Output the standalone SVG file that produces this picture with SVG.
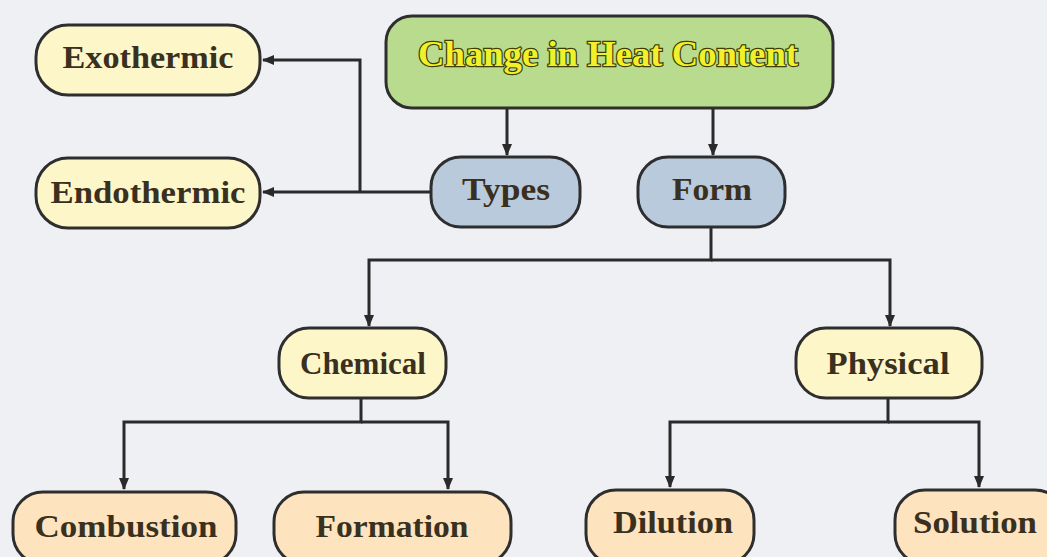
<svg xmlns="http://www.w3.org/2000/svg" width="1047" height="557" viewBox="0 0 1047 557">
<defs>
<marker id="ah" markerWidth="12" markerHeight="10" refX="11" refY="5" orient="auto" markerUnits="userSpaceOnUse">
<path d="M0,0 L12,5 L0,10 Z" fill="#2a2a2a"/>
</marker>
<style>
.box{stroke:#2e2e2e;stroke-width:3}
.main{fill:#b8db8d}
.lead{fill:#fdf6c9}
.blue{fill:#b9cadd}
.peach{fill:#fde4bf}
.lbl{font-family:"Liberation Serif",serif;font-weight:bold;font-size:31px;fill:#3a3020;text-anchor:middle}
.ttl{font-family:"Liberation Serif",serif;font-weight:bold;font-size:36px;fill:#f2f02a;stroke:#3d3d05;stroke-width:2.4;paint-order:stroke;text-anchor:middle}
.con{fill:none;stroke:#2a2a2a;stroke-width:3}
</style>
</defs>
<rect width="1047" height="557" fill="#eef0f4"/>
<g id="connectors">
<path class="con" d="M507,108 V155" marker-end="url(#ah)"/>
<path class="con" d="M713,108 V155" marker-end="url(#ah)"/>
<path class="con" d="M431,192 H263" marker-end="url(#ah)"/>
<path class="con" d="M360,192 V60 H263" marker-end="url(#ah)"/>
<path class="con" d="M711,227 V260 H369 V326" marker-end="url(#ah)"/>
<path class="con" d="M711,260 H890 V326" marker-end="url(#ah)"/>
<path class="con" d="M361,398 V422 H124 V489" marker-end="url(#ah)"/>
<path class="con" d="M361,422 H448 V489" marker-end="url(#ah)"/>
<path class="con" d="M888,398 V422 H670 V487" marker-end="url(#ah)"/>
<path class="con" d="M888,422 H979 V487" marker-end="url(#ah)"/>
</g>
<g id="node-main">
<rect class="box main" x="386" y="16" width="447" height="92" rx="26"/>
<text class="ttl" x="608" y="66" textLength="380" lengthAdjust="spacingAndGlyphs">Change in Heat Content</text>
</g>
<g id="node-exothermic">
<rect class="box lead" x="36" y="25" width="224" height="70" rx="32"/>
<text class="lbl" x="148" y="68" textLength="171" lengthAdjust="spacingAndGlyphs">Exothermic</text>
</g>
<g id="node-endothermic">
<rect class="box lead" x="36" y="158" width="224" height="70" rx="32"/>
<text class="lbl" x="148" y="203" textLength="195" lengthAdjust="spacingAndGlyphs">Endothermic</text>
</g>
<g id="node-types">
<rect class="box blue" x="431" y="157" width="149" height="70" rx="30"/>
<text class="lbl" x="506" y="200" textLength="88" lengthAdjust="spacingAndGlyphs">Types</text>
</g>
<g id="node-form">
<rect class="box blue" x="638" y="157" width="147" height="70" rx="30"/>
<text class="lbl" x="712" y="200" textLength="80" lengthAdjust="spacingAndGlyphs">Form</text>
</g>
<g id="node-chemical">
<rect class="box lead" x="279" y="328" width="167" height="70" rx="30"/>
<text class="lbl" x="363" y="374" textLength="126" lengthAdjust="spacingAndGlyphs">Chemical</text>
</g>
<g id="node-physical">
<rect class="box lead" x="796" y="328" width="186" height="70" rx="30"/>
<text class="lbl" x="888" y="374" textLength="123" lengthAdjust="spacingAndGlyphs">Physical</text>
</g>
<g id="node-combustion">
<rect class="box peach" x="13" y="492" width="223" height="72" rx="30"/>
<text class="lbl" x="126" y="537" textLength="183" lengthAdjust="spacingAndGlyphs">Combustion</text>
</g>
<g id="node-formation">
<rect class="box peach" x="274" y="492" width="237" height="72" rx="30"/>
<text class="lbl" x="392" y="537" textLength="153" lengthAdjust="spacingAndGlyphs">Formation</text>
</g>
<g id="node-dilution">
<rect class="box peach" x="586" y="490" width="168" height="74" rx="30"/>
<text class="lbl" x="673" y="533" textLength="120" lengthAdjust="spacingAndGlyphs">Dilution</text>
</g>
<g id="node-solution">
<rect class="box peach" x="895" y="490" width="170" height="74" rx="30"/>
<text class="lbl" x="975" y="533" textLength="124" lengthAdjust="spacingAndGlyphs">Solution</text>
</g>
</svg>
